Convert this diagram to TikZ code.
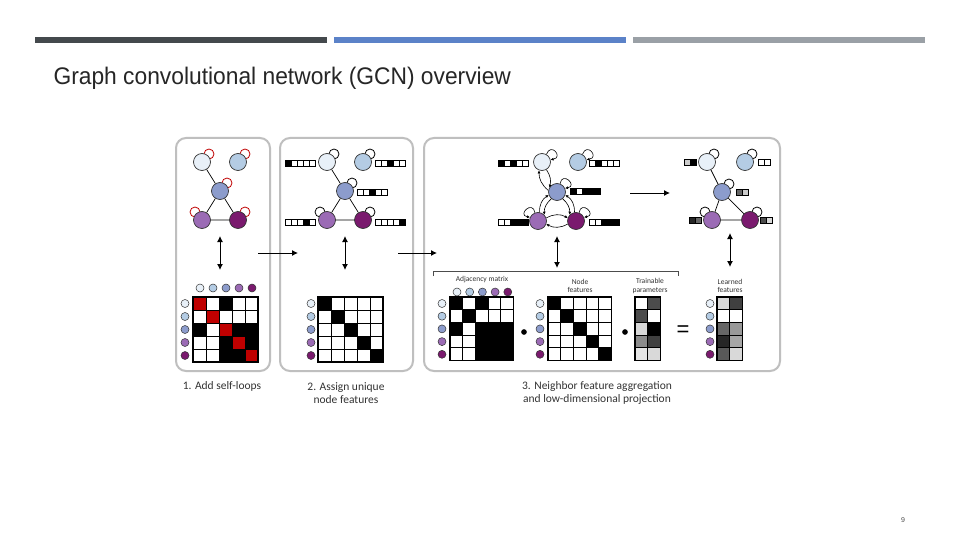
\documentclass[tikz,border=0pt]{standalone}
\usepackage{fontspec}
\setmainfont{Liberation Sans}
\newfontfamily\capf{Carlito}
\usetikzlibrary{arrows.meta}
\definecolor{cA}{HTML}{E8F0F8}
\definecolor{cB}{HTML}{B4CCE4}
\definecolor{cC}{HTML}{8C9CCC}
\definecolor{cD}{HTML}{9B6BB5}
\definecolor{cE}{HTML}{7A1A6E}
\definecolor{bar1}{HTML}{44494D}
\definecolor{bar2}{HTML}{5B82C8}
\definecolor{bar3}{HTML}{9AA0A6}
\newcommand\gmat[4]{% x y cell rows
  \foreach \row [count=\i] in {#4} {\foreach \cc [count=\j] in \row {
    \fill[\cc] (#1+\j*#3-#3,#2+\i*#3-#3) rectangle ++(#3,#3);}}
  \foreach \row [count=\i] in {#4} {\foreach \cc [count=\j] in \row {
    \draw[line width=0.7pt] (#1+\j*#3-#3,#2+\i*#3-#3) rectangle ++(#3,#3);}}
  \draw[line width=1.2pt] (#1,#2) rectangle ++(\xmax*#3,5*#3);}
\newcommand\fvec[3]{% x y cells
  \foreach \cc [count=\j] in {#3} {\fill[\cc] (#1+\j*6-6,#2-3) rectangle ++(6,6);
    \draw[line width=0.5pt] (#1+\j*6-6,#2-3) rectangle ++(6,6);}}
\newcommand\rowmk[3]{% x y step
  \foreach \cc [count=\i] in {cA,cB,cC,cD,cE} \node[mk,fill=\cc] at (#1,#2+\i*#3-#3) {};}
\newcommand\colmk[3]{%
  \foreach \cc [count=\i] in {cA,cB,cC,cD,cE} \node[mk,fill=\cc] at (#1+\i*#3-#3,#2) {};}
\begin{document}
\begin{tikzpicture}[x=1pt,y=-1pt,
  gn/.style={circle,draw=black!80,line width=0.7pt,minimum size=17pt,inner sep=0pt},
  mk/.style={circle,draw=black!80,line width=0.5pt,minimum size=8pt,inner sep=0pt},
  panel/.style={rounded corners=10pt,draw=black!25,line width=2pt},
  lp/.style={draw=#1,line width=0.8pt,fill=white},
  arr/.style={-{Latex[length=6pt,width=6pt]},line width=1pt},
  darr/.style={{Latex[length=6pt,width=6pt]}-{Latex[length=6pt,width=6pt]},line width=1pt},
  carr/.style={-{Latex[length=3pt,width=3pt]},line width=0.6pt},
  lab/.style={font=\capf\fontsize{7.5}{8.5}\selectfont,align=center,text=black!80},
  capt/.style={font=\capf\fontsize{11.5}{13}\selectfont,align=center,text=black!80}]
\useasboundingbox (0,0) rectangle (960,540);
\fill[white] (0,0) rectangle (960,540);
\fill[bar1] (35,37) rectangle (327,43);
\fill[bar2] (334,37) rectangle (626,43);
\fill[bar3] (633,37) rectangle (925,43);
\node[anchor=west,font=\fontsize{20}{24}\selectfont,text=black!85] (title) at (50,78) {\fontsize{24}{28}\selectfont\scalebox{0.95}[1]{Graph convolutional network (GCN) overview}};
\node[font=\fontsize{7}{8}\selectfont,text=black!70] (pg) at (903,520) {9};
% panels
\draw[panel] (176,138) rectangle (270,371);
\draw[panel] (280,138) rectangle (413,371);
\draw[panel] (424,138) rectangle (780,371);
% ---------- panel 1
\def\xmax{5}
\begin{scope}[name prefix=p1]
\draw[lp=red!75!black] (209,154) circle (5); \draw[lp=red!75!black] (245,154) circle (5);
\draw[lp=red!75!black] (227,183) circle (5); \draw[lp=red!75!black] (195,212) circle (5);
\draw[lp=red!75!black] (245,212) circle (5);
\node[gn,fill=cA] (a) at (202,162) {};
\node[gn,fill=cB] (b) at (238,162) {};
\node[gn,fill=cC] (c) at (220,191) {};
\node[gn,fill=cD] (d) at (202,220) {};
\node[gn,fill=cE] (e) at (238,220) {};
\draw[line width=0.7pt] (a)--(c) (c)--(d) (c)--(e) (d)--(e);
\coordinate (u) at (220,236); \coordinate (v) at (220,270);
\draw[darr] (u)--(v);
\end{scope}
\colmk{200}{288}{13}
\rowmk{185}{303.5}{13}
\def\R{red!75!black}
\gmat{193}{297}{13}{{\R,white,black,white,white},{white,\R,white,white,white},{black,white,\R,black,black},{white,white,black,\R,black},{white,white,black,black,\R}}
\coordinate (s1) at (258,253); \coordinate (t1) at (298,253);
\draw[arr] (s1)--(t1);
\node[capt] (c1) at (222,386) {1. Add self-loops};
% ---------- panel 2
\begin{scope}[name prefix=p2]
\draw[lp=black] (334,154) circle (5); \draw[lp=black] (370,154) circle (5);
\draw[lp=black] (352,183) circle (5); \draw[lp=black] (320,212) circle (5);
\draw[lp=black] (370,212) circle (5);
\node[gn,fill=cA] (a) at (327,162) {};
\node[gn,fill=cB] (b) at (363,162) {};
\node[gn,fill=cC] (c) at (345,191) {};
\node[gn,fill=cD] (d) at (327,220) {};
\node[gn,fill=cE] (e) at (363,220) {};
\draw[line width=0.7pt] (a)--(c) (c)--(d) (c)--(e) (d)--(e);
\coordinate (u) at (345,236); \coordinate (v) at (345,270);
\draw[darr] (u)--(v);
\end{scope}
\fvec{285}{163}{black,white,white,white,white}
\fvec{375}{163}{white,white,black,white,white}
\fvec{357}{192}{white,white,black,white,white}
\fvec{285}{222}{white,white,white,black,white}
\fvec{375}{222}{white,white,white,white,black}
\rowmk{311}{303.5}{13}
\gmat{318}{297}{13}{{black,white,white,white,white},{white,black,white,white,white},{white,white,black,white,white},{white,white,white,black,white},{white,white,white,white,black}}
\coordinate (s2) at (398,253); \coordinate (t2) at (437,253);
\draw[arr] (s2)--(t2);
\node[capt] (c2) at (346,393) {2. Assign unique\\node features};
% ---------- panel 3 left graph
\begin{scope}[name prefix=p3]
\node[gn,fill=cA] (a) at (542,162) {};
\node[gn,fill=cB] (b) at (578,162) {};
\node[gn,fill=cC] (c) at (557,192) {};
\node[gn,fill=cD] (d) at (538,221) {};
\node[gn,fill=cE] (e) at (576,221) {};
\draw[carr] (a.60) to[out=70,in=10,looseness=5] (a.15);
\draw[carr] (b.60) to[out=70,in=10,looseness=5] (b.15);
\draw[carr] (c.70) to[out=80,in=10,looseness=5] (c.25);
\draw[carr] (d.110) to[out=100,in=170,looseness=5] (d.155);
\draw[carr] (e.70) to[out=80,in=10,looseness=5] (e.25);
\draw[carr] (a.300) to[bend left=25] (c.150);
\draw[carr] (c.170) to[bend left=25] (a.250);
\draw[carr] (c.230) to[bend right=25] (d.45);
\draw[carr] (d.80) to[bend left=30] (c.200);
\draw[carr] (c.310) to[bend left=25] (e.135);
\draw[carr] (e.100) to[bend right=30] (c.340);
\draw[carr] (d.20) to[bend left=30] (e.160);
\draw[carr] (e.200) to[bend left=30] (d.340);
\coordinate (u) at (557,236); \coordinate (v) at (557,268);
\draw[darr] (u)--(v);
\coordinate (s) at (630,193); \coordinate (t) at (670,193);
\draw[arr] (s)--(t);
\end{scope}
\fvec{498}{163}{black,white,black,white,white}
\fvec{589}{163}{white,black,white,white,white}
\fvec{570}{191}{black,white,black,black,black}
\fvec{498}{222}{white,white,black,black,black}
\fvec{589}{222}{white,white,black,black,black}
% right graph
\begin{scope}[name prefix=p4]
\draw[lp=black] (714,154) circle (5); \draw[lp=black] (752,154) circle (5);
\draw[lp=black] (729,184) circle (5); \draw[lp=black] (705,212) circle (5);
\draw[lp=black] (757,212) circle (5);
\node[gn,fill=cA] (a) at (707,162) {};
\node[gn,fill=cB] (b) at (745,162) {};
\node[gn,fill=cC] (c) at (722,192) {};
\node[gn,fill=cD] (d) at (712,220) {};
\node[gn,fill=cE] (e) at (750,220) {};
\draw[line width=0.7pt] (a)--(c) (c)--(d) (c)--(e) (d)--(e);
\coordinate (u) at (730,233); \coordinate (v) at (730,267);
\draw[darr] (u)--(v);
\end{scope}
\fvec{684}{162}{black!20,black}
\fvec{758}{162}{white,white}
\fvec{736}{192}{black!60,black!20}
\fvec{689}{220}{black!85,black!60}
\fvec{760}{220}{black!70,black!15}
% bracket & labels
\coordinate (k1) at (433,276); \coordinate (k2) at (433,271); \coordinate (k3) at (678,271); \coordinate (k4) at (678,276);
\draw[line width=0.6pt,black!70] (k1)--(k2)--(k3)--(k4);
\node[lab] (l1) at (482,280) {Adjacency matrix};
\node[lab] (l2) at (580,286) {Node\\features};
\node[lab] (l3) at (650,286) {Trainable\\parameters};
\node[lab] (l4) at (730,286) {Learned\\features};
\colmk{457}{292}{12.7}
\rowmk{442}{303.5}{12.7}
\gmat{450}{297}{12.7}{{black,white,black,white,white},{white,black,white,white,white},{black,white,black,black,black},{white,white,black,black,black},{white,white,black,black,black}}
\node[circle,fill=black,inner sep=2pt] (dot1) at (524,332) {};
\rowmk{540}{303.5}{12.7}
\gmat{548}{297}{12.7}{{black,white,white,white,white},{white,black,white,white,white},{white,white,black,white,white},{white,white,white,black,white},{white,white,white,white,black}}
\node[circle,fill=black,inner sep=2pt] (dot2) at (625,332) {};
\def\xmax{2}
\gmat{635}{297}{12.7}{{white,black!70},{black!70,white},{black!15,black},{black!45,black!75},{black!10,black!15}}
\node[font=\fontsize{22}{22}\selectfont] (eq) at (683,331) {=};
\rowmk{710}{303.5}{12.7}
\gmat{717}{297}{12.7}{{black!15,black!75},{white,white},{black!60,black!40},{black!85,black!35},{black!65,black!15}}
\node[capt] (c3) at (597,393) {3. Neighbor feature aggregation\\and low-dimensional projection};
\end{tikzpicture}
\end{document}
